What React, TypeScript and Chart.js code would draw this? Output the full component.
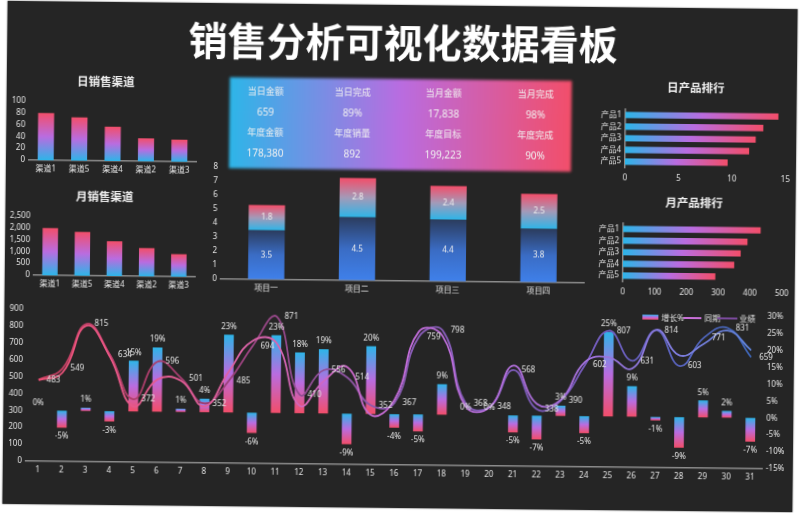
import { useEffect, useRef } from "react"
import { Chart, registerables } from "chart.js"

Chart.register(...registerables)

const CHANNELS = ["渠道1", "渠道5", "渠道4", "渠道2", "渠道3"]
const DAY_CHANNEL = [80, 73, 58, 39, 37]
const MONTH_CHANNEL = [2000, 1850, 1470, 1190, 950]

const PROJECTS = ["项目一", "项目二", "项目三", "项目四"]
const PROJECT_LOWER = [3.5, 4.5, 4.4, 3.8]
const PROJECT_UPPER = [1.8, 2.8, 2.4, 2.5]

const PRODUCTS = ["产品1", "产品2", "产品3", "产品4", "产品5"]
const DAY_PRODUCT = [14.3, 12.9, 12.2, 11.6, 9.6]
const MONTH_PRODUCT = [432, 391, 370, 350, 291]

const DAYS = ["1", "2", "3", "4", "5", "6", "7", "8", "9", "10", "11", "12", "13", "14", "15", "16", "17", "18", "19", "20", "21", "22", "23", "24", "25", "26", "27", "28", "29", "30", "31"]
const ACTUAL = [483, 549, 815, 634, 372, 596, 501, 352, 485, 694, 871, 410, 556, 514, 352, 367, 759, 798, 368, 348, 568, 338, 390, 602, 807, 631, 814, 603, 771, 831, 659]
const LAST_YEAR = [480, 525, 805, 620, 330, 490, 485, 335, 540, 725, 715, 345, 490, 575, 295, 385, 790, 765, 350, 345, 595, 370, 395, 620, 650, 585, 815, 665, 735, 815, 700]
const GROWTH = [0, -5, 1, -3, 15, 19, 1, 4, 23, -6, 23, 18, 19, -9, 20, -4, -5, 9, 0, 0, -5, -7, 3, -5, 25, 9, -1, -9, 5, 2, -7]

const KPI_LABELS_TOP = ["当日金额", "当日完成", "当月金额", "当月完成"]
const KPI_VALUES_TOP = ["659", "89%", "17,838", "98%"]
const KPI_LABELS_BOTTOM = ["年度金额", "年度销量", "年度目标", "年度完成"]
const KPI_VALUES_BOTTOM = ["178,380", "892", "199,223", "90%"]

const FONT = '"Noto Sans", "Noto Sans CJK SC", sans-serif'
const TEXT = "#e4e4e4"
const AXIS = "#8c8c8c"
const BLUE = "#2db5e8"
const PURPLE = "#b96ce0"
const RED = "#f24e6a"
const TICK_SIZE = 8

function verticalGradient(ctx: any, low: number, high: number, stops: string[]) {
  const { chart, dataset } = ctx
  const scale = chart.scales[dataset.yAxisID || "y"]
  if (!scale || !chart.chartArea) return stops[0]
  const g = chart.ctx.createLinearGradient(0, scale.getPixelForValue(low), 0, scale.getPixelForValue(high))
  stops.forEach((c, i) => g.addColorStop(i / (stops.length - 1), c))
  return g
}

function horizontalGradient(ctx: any) {
  const { chart, raw } = ctx
  if (!chart.chartArea) return BLUE
  const g = chart.ctx.createLinearGradient(chart.scales.x.getPixelForValue(0), 0, chart.scales.x.getPixelForValue(raw), 0)
  g.addColorStop(0, BLUE)
  g.addColorStop(0.5, PURPLE)
  g.addColorStop(1, RED)
  return g
}

function lineGradient(stops: string[]) {
  return (ctx: any) => {
    const { chart } = ctx
    if (!chart.chartArea) return stops[0]
    const g = chart.ctx.createLinearGradient(chart.chartArea.left, 0, chart.chartArea.right, 0)
    stops.forEach((c, i) => g.addColorStop(i / (stops.length - 1), c))
    return g
  }
}

// axis helper: afterFit pins the plot area so the panels line up
function categoryAxis(size: number) {
  return {
    grid: { display: false, drawTicks: false },
    border: { color: AXIS, width: 1.5 },
    ticks: { color: TEXT, font: { size: TICK_SIZE, family: FONT }, padding: 4, maxRotation: 0, autoSkip: false },
    afterFit: (s: any) => {
      s.height = size
    },
  }
}

function valueAxis(size: number, min: number, max: number, step: number) {
  return {
    min,
    max,
    grid: { display: false, drawTicks: false },
    border: { display: false },
    ticks: {
      color: TEXT,
      font: { size: TICK_SIZE, family: FONT },
      padding: 4,
      stepSize: step,
      autoSkip: false,
      callback: (v: any) => Number(v).toLocaleString("en-US"),
    },
    afterFit: (s: any) => {
      s.width = size
    },
  }
}

function channelChart(labels: string[], values: number[], yWidth: number, max: number, step: number, top: number) {
  return {
    type: "bar",
    data: {
      labels,
      datasets: [
        {
          data: values,
          barPercentage: 0.48,
          categoryPercentage: 1,
          backgroundColor: (ctx: any) => verticalGradient(ctx, 0, ctx.raw, [BLUE, PURPLE, RED]),
        },
      ],
    },
    options: {
      responsive: false,
      animation: false,
      layout: { padding: { top, right: 5 } },
      plugins: { legend: { display: false }, tooltip: { enabled: false } },
      scales: { x: categoryAxis(16), y: valueAxis(yWidth, 0, max, step) },
    },
  }
}

function productChart(values: number[], max: number, step: number, yWidth: number, right: number, top: number) {
  return {
    type: "bar",
    data: {
      labels: PRODUCTS,
      datasets: [
        {
          data: values,
          barPercentage: 0.55,
          categoryPercentage: 1,
          backgroundColor: horizontalGradient,
        },
      ],
    },
    options: {
      indexAxis: "y",
      responsive: false,
      animation: false,
      layout: { padding: { top, right } },
      plugins: { legend: { display: false }, tooltip: { enabled: false } },
      scales: {
        x: {
          min: 0,
          max,
          grid: { display: false, drawTicks: false },
          border: { display: false },
          ticks: { color: TEXT, font: { size: TICK_SIZE, family: FONT }, padding: 6, stepSize: step },
          afterFit: (s: any) => {
            s.height = 18
          },
        },
        y: {
          grid: { display: false, drawTicks: false },
          border: { color: AXIS, width: 1.5 },
          ticks: { color: TEXT, font: { size: TICK_SIZE, family: FONT }, padding: 4, autoSkip: false },
          afterFit: (s: any) => {
            s.width = yWidth
          },
        },
      },
    },
  }
}

const stackLabels = {
  id: "stackLabels",
  afterDatasetsDraw(chart: any) {
    const { ctx } = chart
    ctx.save()
    ctx.font = `${TICK_SIZE}px ${FONT}`
    ctx.fillStyle = "#eeeeee"
    ctx.textAlign = "center"
    ctx.textBaseline = "middle"
    chart.data.datasets.forEach((ds: any, d: number) => {
      chart.getDatasetMeta(d).data.forEach((bar: any, i: number) => {
        ctx.fillText(String(ds.data[i].toFixed(1)), bar.x, (bar.y + bar.base) / 2)
      })
    })
    ctx.restore()
  },
}

function projectChart() {
  return {
    type: "bar",
    data: {
      labels: PROJECTS,
      datasets: [
        {
          data: PROJECT_LOWER,
          barPercentage: 0.4,
          categoryPercentage: 1,
          backgroundColor: (ctx: any) => verticalGradient(ctx, 0, ctx.raw, ["#3f80ea", "#3a6cc4", "#2b3c5e"]),
        },
        {
          data: PROJECT_UPPER,
          barPercentage: 0.4,
          categoryPercentage: 1,
          backgroundColor: (ctx: any) =>
            verticalGradient(ctx, PROJECT_LOWER[ctx.dataIndex], PROJECT_LOWER[ctx.dataIndex] + ctx.raw, [BLUE, "#a39ab8", RED]),
        },
      ],
    },
    plugins: [stackLabels],
    options: {
      responsive: false,
      animation: false,
      layout: { padding: { top: 8, right: 6 } },
      plugins: { legend: { display: false }, tooltip: { enabled: false } },
      scales: {
        x: { ...categoryAxis(15.3), stacked: true },
        y: { ...valueAxis(16, 0, 8, 1), stacked: true },
      },
    },
  }
}

const comboLabels = {
  id: "comboLabels",
  afterDatasetsDraw(chart: any) {
    const { ctx } = chart
    ctx.save()
    ctx.font = `${TICK_SIZE}px ${FONT}`
    ctx.fillStyle = TEXT
    ctx.textBaseline = "middle"
    ctx.textAlign = "center"
    chart.getDatasetMeta(0).data.forEach((bar: any, i: number) => {
      const v = GROWTH[i]
      const y = v < 0 ? bar.y + 9 : bar.y - 8
      ctx.fillText(`${v}%`, bar.x, y)
    })
    ctx.textAlign = "left"
    chart.getDatasetMeta(2).data.forEach((pt: any, i: number) => {
      ctx.fillText(String(ACTUAL[i]), pt.x + 8, pt.y)
    })
    ctx.restore()
  },
}

function comboChart() {
  return {
    type: "bar",
    data: {
      labels: DAYS,
      datasets: [
        {
          label: "增长%",
          data: GROWTH,
          yAxisID: "y2",
          order: 3,
          barPercentage: 0.41,
          categoryPercentage: 1,
          backgroundColor: (ctx: any) => verticalGradient(ctx, Math.min(ctx.raw, 0), Math.max(ctx.raw, 0), [RED, PURPLE, BLUE]),
        },
        {
          type: "line",
          label: "同期",
          data: LAST_YEAR,
          yAxisID: "y",
          order: 1,
          tension: 0.45,
          borderWidth: 1.8,
          pointRadius: 0,
          borderColor: lineGradient(["#ee4f72", "#e0609c", "#c46cd8", "#a670dc", "#5a86dc"]),
        },
        {
          type: "line",
          label: "业绩",
          data: ACTUAL,
          yAxisID: "y",
          order: 2,
          tension: 0.45,
          borderWidth: 1.8,
          pointRadius: 0,
          borderColor: lineGradient(["#c8405e", "#9c3d72", "#8a5cb4", "#7a5cc0", "#3a68b8"]),
        },
      ],
    },
    plugins: [comboLabels],
    options: {
      responsive: false,
      animation: false,
      layout: { padding: { top: 8 } },
      plugins: { legend: { display: false }, tooltip: { enabled: false } },
      scales: {
        x: categoryAxis(19),
        y: valueAxis(22, 0, 900, 100),
        y2: {
          position: "right",
          min: -15,
          max: 30,
          grid: { display: false, drawTicks: false },
          border: { display: false },
          ticks: {
            color: TEXT,
            font: { size: TICK_SIZE, family: FONT },
            padding: 4,
            stepSize: 5,
            autoSkip: false,
            callback: (v: any) => `${v}%`,
          },
          afterFit: (s: any) => {
            s.width = 32
          },
        },
      },
    },
  }
}

function ChartBox({ left, top, width, height, config }: any) {
  const canvasRef = useRef<HTMLCanvasElement>(null)

  useEffect(() => {
    if (!canvasRef.current) return
    const chart = new Chart(canvasRef.current, config())
    return () => {
      chart.destroy()
    }
  }, [])

  return <canvas ref={canvasRef} width={width} height={height} style={{ position: "absolute", left, top, width, height }} />
}

function Label({ x, y, size, weight, children }: any) {
  return (
    <div
      style={{
        position: "absolute",
        left: x - 300,
        top: y - 30,
        width: 600,
        height: 60,
        lineHeight: "60px",
        textAlign: "center",
        whiteSpace: "nowrap",
        color: "#f0f0f0",
        fontSize: size,
        fontWeight: weight || 400,
      }}
    >
      {children}
    </div>
  )
}

const KPI_X = [264, 351, 442, 534]

export default function App() {
  return (
    <div style={{ position: "fixed", left: 0, top: 0, width: 800, height: 513, overflow: "hidden", background: "#fff", fontFamily: FONT }}>
      <div
        style={{
          position: "absolute",
          left: 0,
          top: 0,
          width: 800,
          height: 513,
          transformOrigin: "400px 256px",
          transform: "rotate(0.6deg)",
          filter: "blur(0.35px)",
        }}
      >
        <div style={{ position: "absolute", left: 5, top: 5, width: 790, height: 503, background: "#252525", boxShadow: "0 0 1.5px #555" }} />
        <Label x={401} y={40} size={39} weight={700}>
          <span style={{ color: "#fff", fontFamily: '"Noto Sans CJK SC", sans-serif' }}>销售分析可视化数据看板</span>
        </Label>
        <Label x={104} y={85} size={11.5} weight={700}>日销售渠道</Label>
        <Label x={104} y={200} size={11.5} weight={700}>月销售渠道</Label>
        <Label x={694} y={85} size={11.5} weight={700}>日产品排行</Label>
        <Label x={693.5} y={200} size={11.5} weight={700}>月产品排行</Label>

        <div
          style={{
            position: "absolute",
            left: 228,
            top: 79,
            width: 342,
            height: 91,
            background: `linear-gradient(90deg, ${BLUE} 0%, ${PURPLE} 50%, ${RED} 100%)`,
            filter: "blur(1.5px)",
          }}
        />
        {KPI_X.map((x, i) => (
          <div key={i}>
            <Label x={x} y={92.5} size={9}>{KPI_LABELS_TOP[i]}</Label>
            <Label x={x} y={113} size={10}>{KPI_VALUES_TOP[i]}</Label>
            <Label x={x} y={134} size={9}>{KPI_LABELS_BOTTOM[i]}</Label>
            <Label x={x} y={154} size={10}>{KPI_VALUES_BOTTOM[i]}</Label>
          </div>
        ))}

        <ChartBox left={6} top={96} width={194} height={84} config={() => channelChart(CHANNELS, DAY_CHANNEL, 22, 100, 20, 8)} />
        <ChartBox left={6} top={211} width={194} height={84} config={() => channelChart(CHANNELS, MONTH_CHANNEL, 28, 2500, 500, 8)} />
        <ChartBox left={205} top={160} width={385} height={136} config={projectChart} />
        <ChartBox left={590} top={98} width={205} height={85} config={() => productChart(DAY_PRODUCT, 15, 5, 34, 9, 7)} />
        <ChartBox left={590} top={212} width={205} height={85} config={() => productChart(MONTH_PRODUCT, 500, 100, 33, 13, 7.6)} />
        <ChartBox left={6} top={304} width={790} height={180} config={comboChart} />

        {/* legend */}
        <div style={{ position: "absolute", left: 643, top: 312, width: 16, height: 5, background: `linear-gradient(180deg, ${BLUE}, ${PURPLE}, ${RED})` }} />
        <div style={{ position: "absolute", left: 662, top: 308, height: 14, lineHeight: "14px", fontSize: 8, color: TEXT }}>增长%</div>
        <div style={{ position: "absolute", left: 684, top: 314, width: 18, height: 1.5, background: "#c870d8" }} />
        <div style={{ position: "absolute", left: 705, top: 308, height: 14, lineHeight: "14px", fontSize: 8, color: TEXT }}>同期</div>
        <div style={{ position: "absolute", left: 718, top: 314, width: 20, height: 1.5, background: "#7a4a9c" }} />
        <div style={{ position: "absolute", left: 740, top: 308, height: 14, lineHeight: "14px", fontSize: 8, color: TEXT }}>业绩</div>
      </div>
    </div>
  )
}
